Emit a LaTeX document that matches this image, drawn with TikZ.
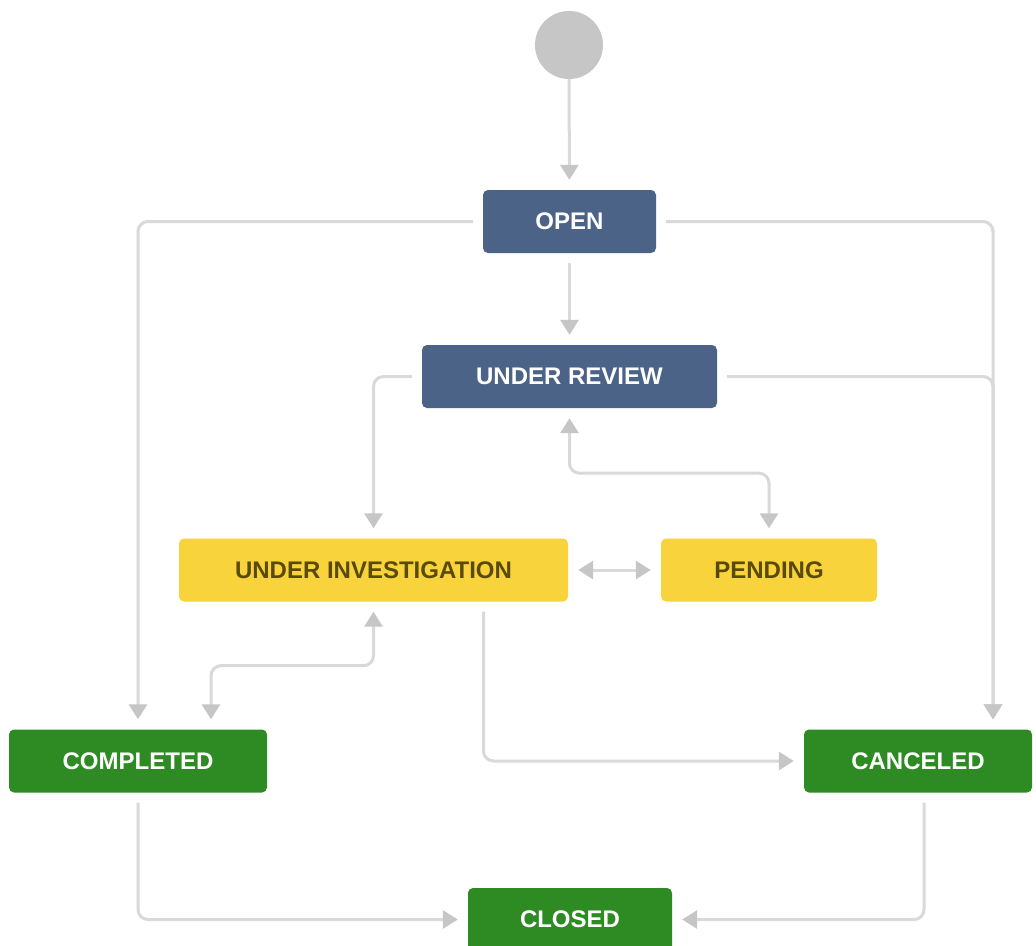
\documentclass[tikz,border=0pt]{standalone}
\usepackage{fontspec}
\setmainfont{Liberation Sans}
\usetikzlibrary{arrows.meta}
\definecolor{stblue}{HTML}{4B6387}
\definecolor{styellow}{HTML}{F9D33C}
\definecolor{stgreen}{HTML}{2E8B23}
\definecolor{sttext}{HTML}{594A08}
\definecolor{linegray}{HTML}{D9D9D9}
\definecolor{tipgray}{HTML}{C6C6C6}

\begin{document}
\begin{tikzpicture}[x=1pt,y=-1pt,
  state/.style={rounded corners=5pt,minimum height=63pt,inner sep=0pt,
    font=\fontsize{24}{28}\selectfont\bfseries},
  todo/.style={state,fill=stblue,text=white},
  progress/.style={state,fill=styellow,text=sttext},
  done/.style={state,fill=stgreen,text=white},
  link/.style={line width=3pt,draw=linegray,rounded corners=10pt,
    shorten >=10pt,shorten <=10pt,
    -{Triangle[width=18pt,length=15pt,color=tipgray]}},
  twoway/.style={link,{Triangle[width=18pt,length=15pt,color=tipgray]}-{Triangle[width=18pt,length=15pt,color=tipgray]}},
  plain/.style={link,-}]
\useasboundingbox[fill=white] (0,0) rectangle (1036,945);
% states
\node[circle,fill=tipgray,minimum size=68pt,inner sep=0pt] (init) at (569,45) {};
\node[todo,minimum width=173pt] (open) at (569.5,221.5) {OPEN};
\node[todo,minimum width=295pt] (review) at (569.5,376.5) {UNDER REVIEW};
\node[progress,minimum width=389pt] (invest) at (373.5,570) {UNDER INVESTIGATION};
\node[progress,minimum width=216pt] (pending) at (769,570) {PENDING};
\node[done,minimum width=258pt] (completed) at (138,761) {COMPLETED};
\node[done,minimum width=228pt] (canceled) at (918,761) {CANCELED};
\node[done,minimum width=204pt] (closed) at (570,919.5) {CLOSED};
% transitions
\draw[link,shorten <=0pt] (init) -- (open);
\draw[link] (open) -- (review);
\draw[link] (open.west) -| (completed.north);
\draw[link] (open.east) -| ([xshift=75pt]canceled.north);
\draw[link] (review.east) -| ([xshift=75pt]canceled.north);
\draw[link] (review.west) -| (invest.north);
\draw[twoway] (review.south) -- ++(0,65) -| (pending.north);
\draw[twoway] (invest.east) -- (pending.west);
\draw[twoway] (invest.south) -- ++(0,64) -| ([xshift=73pt]completed.north);
\draw[link] ([xshift=110pt]invest.south) |- (canceled.west);
\draw[link] (completed.south) |- (closed.west);
\draw[link] ([xshift=6pt]canceled.south) |- (closed.east);
\end{tikzpicture}
\end{document}
